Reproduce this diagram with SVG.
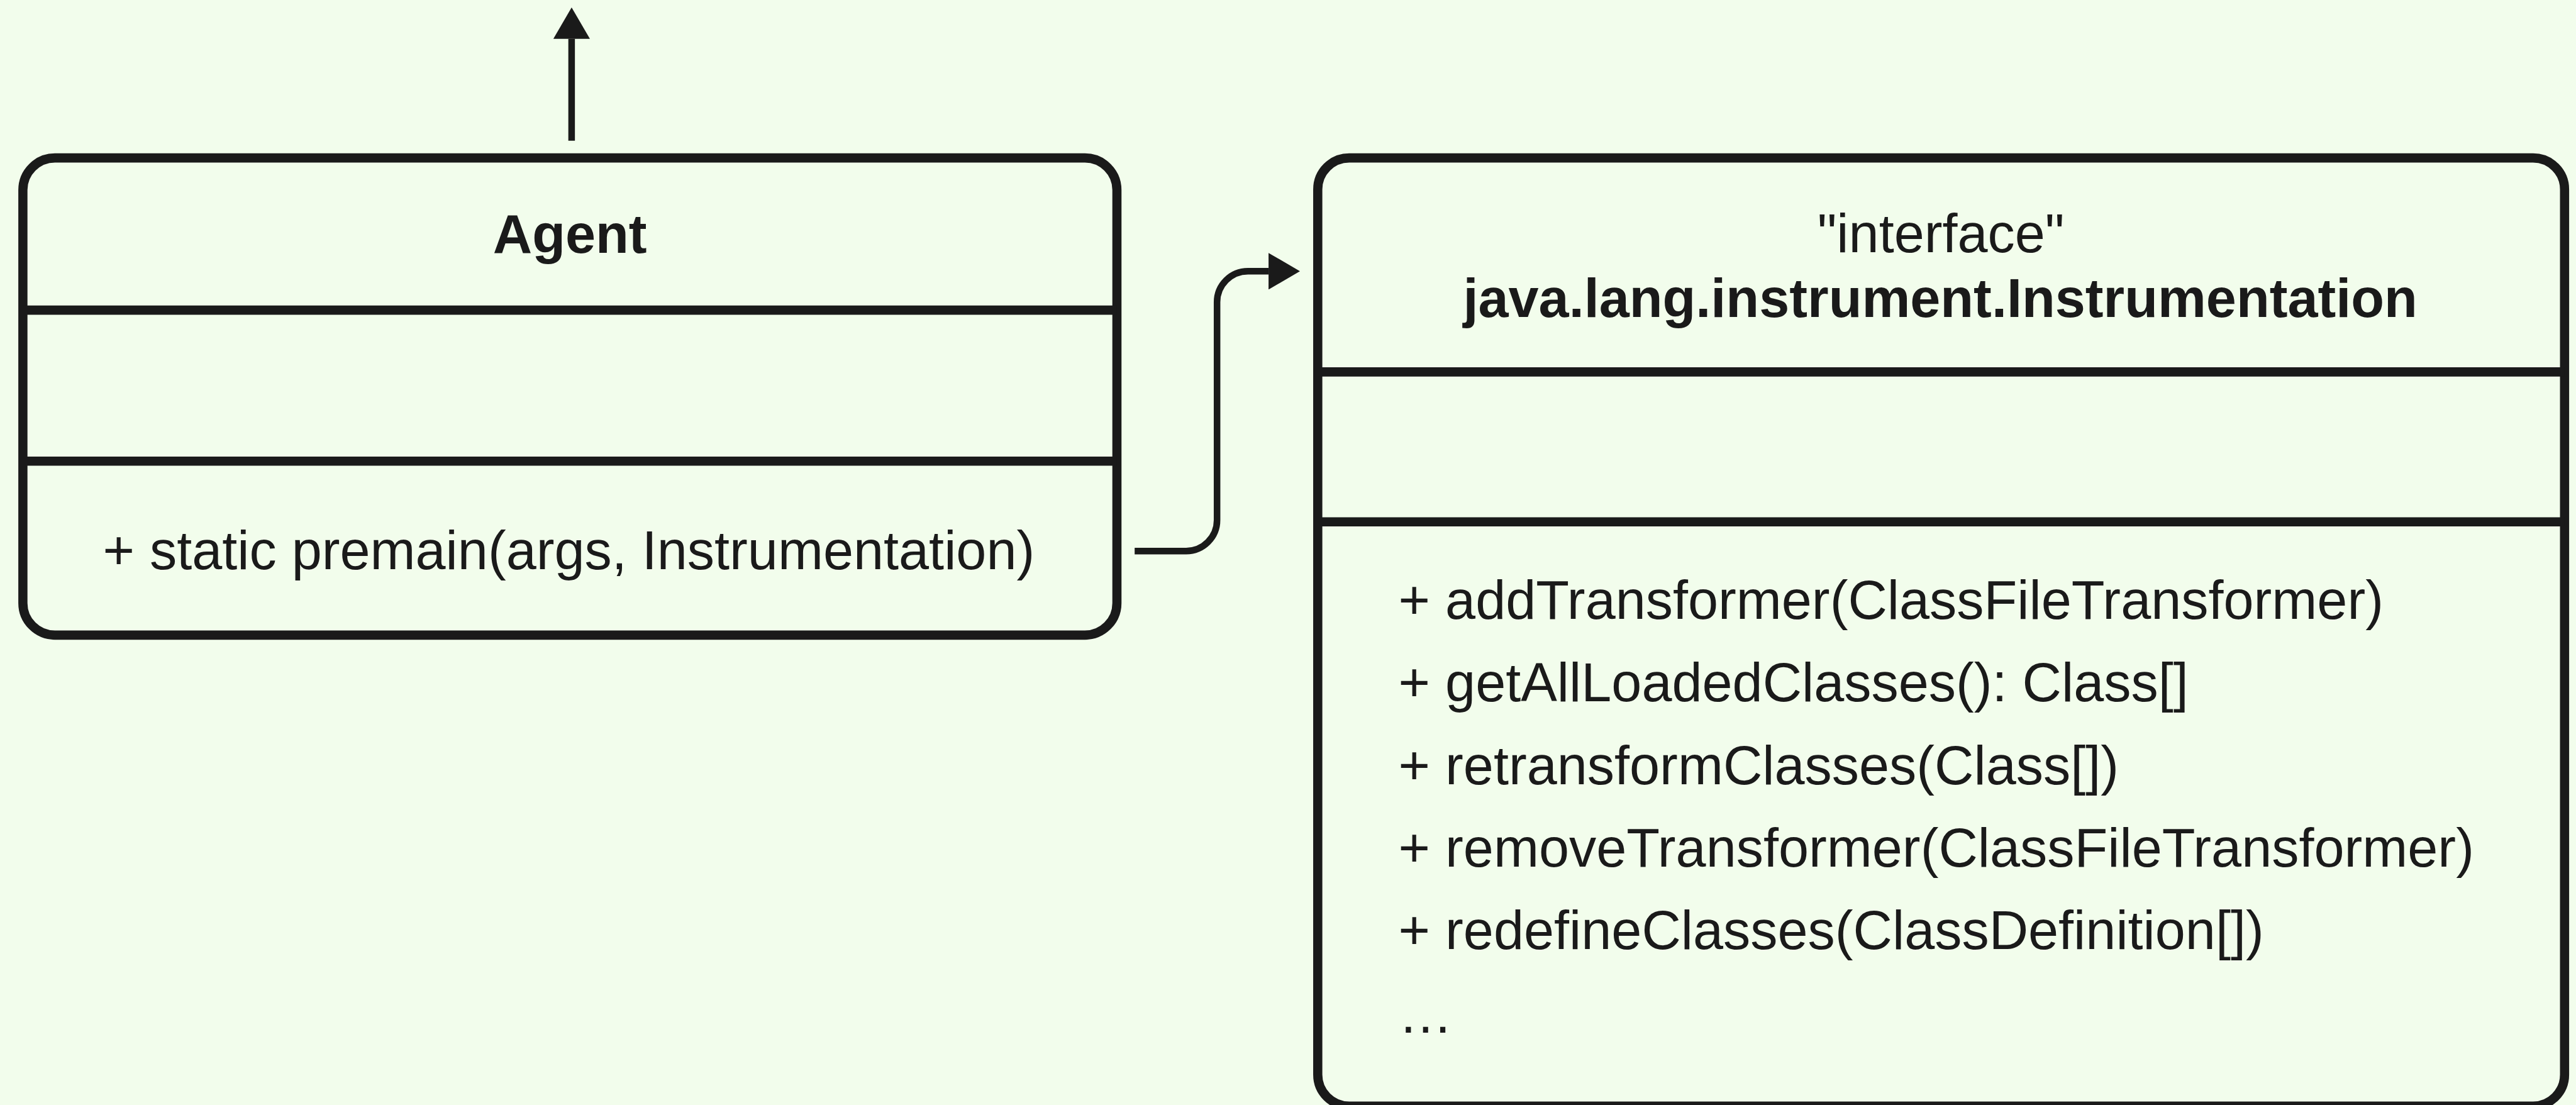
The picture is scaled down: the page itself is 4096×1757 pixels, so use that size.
<svg xmlns="http://www.w3.org/2000/svg" width="4096" height="1757" viewBox="0 0 4096 1757">
<style>
.box{fill:#f2fdec;stroke:#1a1a1a;stroke-width:16}
.div{stroke:#1a1a1a;stroke-width:16;fill:none}
.conn{stroke:#1a1a1a;stroke-width:11.5;fill:none}
.t{font-family:"Liberation Sans",Arial,Helvetica,sans-serif;font-size:95px;fill:#1a1a1a}
.b{font-weight:bold}
.c{text-anchor:middle}
</style>
<defs>
<marker id="ah" markerUnits="userSpaceOnUse" viewBox="0 0 55 64" refX="0" refY="32" markerWidth="55" markerHeight="64" orient="auto">
<path d="M0,0 L55,32 L0,64 Z" fill="#1a1a1a"/>
</marker>
</defs>
<rect width="4096" height="1757" fill="#f2fdec"/>
<g transform="scale(0.90982)">
<g id="connectors">
<path class="conn" d="M999,246 V68" marker-end="url(#ah)"/>
<path class="conn" d="M1983,963 H2073 A54,54 0 0 0 2127,909 V528 A54,54 0 0 1 2181,474 H2217" marker-end="url(#ah)"/>
</g>
<g id="agent">
<rect class="box" x="40" y="276" width="1912" height="834" rx="56"/>
<line class="div" x1="40" y1="542" x2="1952" y2="542"/>
<line class="div" x1="40" y1="806" x2="1952" y2="806"/>
<text class="t b c" x="996" y="442">Agent</text>
<text class="t c" x="994" y="995">+ static premain(args, Instrumentation)</text>
</g>
<g id="instrumentation">
<rect class="box" x="2303" y="276" width="2179" height="1657" rx="55"/>
<line class="div" x1="2303" y1="650" x2="4482" y2="650"/>
<line class="div" x1="2303" y1="912" x2="4482" y2="912"/>
<text class="t c" x="3392" y="441">"interface"</text>
<text class="t b c" x="3391" y="554">java.lang.instrument.Instrumentation</text>
<text class="t" x="2444" y="1082">+ addTransformer(ClassFileTransformer)</text>
<text class="t" x="2444" y="1226">+ getAllLoadedClasses(): Class[]</text>
<text class="t" x="2444" y="1371">+ retransformClasses(Class[])</text>
<text class="t" x="2444" y="1515">+ removeTransformer(ClassFileTransformer)</text>
<text class="t" x="2444" y="1659">+ redefineClasses(ClassDefinition[])</text>
<text class="t" x="2444" y="1805">…</text>
</g>
</g>
</svg>
